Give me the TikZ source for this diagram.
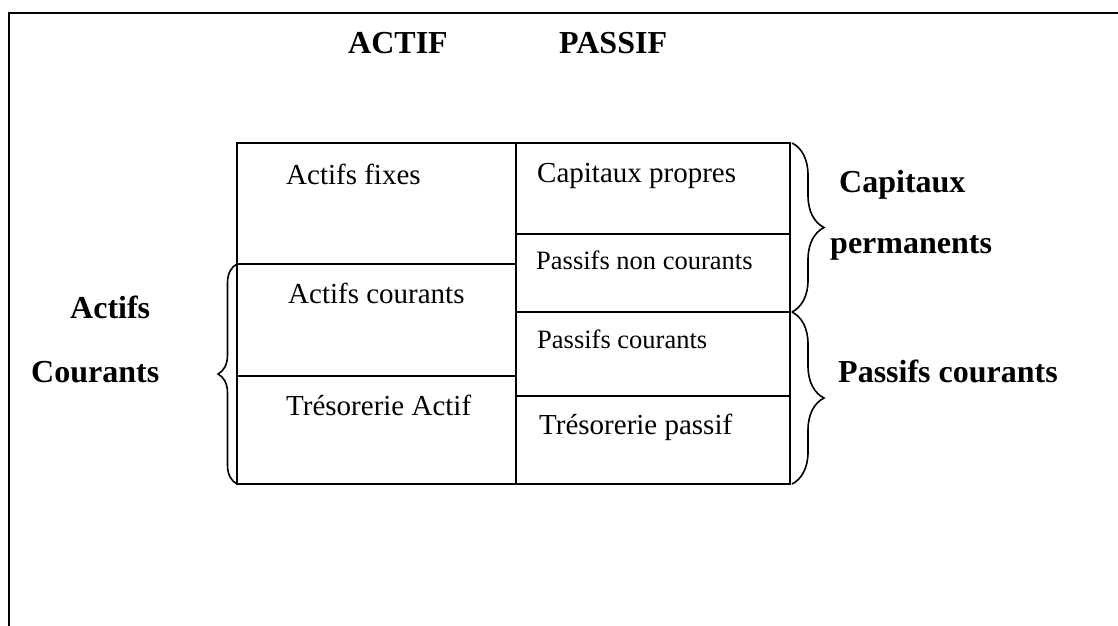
\documentclass[tikz,border=0pt]{standalone}
\usepackage{fontspec}
\setmainfont{Liberation Serif}
\usetikzlibrary{decorations.pathreplacing}
\begin{document}
\begin{tikzpicture}[x=1pt,y=-1pt,
  rule/.style={line width=1.6pt},
  frameline/.style={line width=2.2pt},
  cell/.style={anchor=base west,inner sep=0pt,font=\fontsize{29}{34}\selectfont},
  cellsmall/.style={anchor=base west,inner sep=0pt,font=\fontsize{26.5}{31}\selectfont},
  lab/.style={anchor=base west,inner sep=0pt,font=\fontsize{32}{38}\selectfont\bfseries},
  curly/.style={line width=1.6pt,decorate,decoration={brace,amplitude=#1}}]
\useasboundingbox (0,0) rectangle (1118,625);

% open outer frame (top and left sides)
\coordinate (ftr) at (1120,12.7);
\coordinate (ftl) at (9,12.7);
\coordinate (fbl) at (9,627);
\draw[frameline] (ftr) -- (ftl) -- (fbl);

% balance sheet grid
\coordinate (tl) at (237,143);
\coordinate (br) at (790,484);
\coordinate (mt) at (516,143);
\coordinate (mb) at (516,484);
\draw[rule] (tl) rectangle (br);
\draw[rule] (mt) -- (mb);
\coordinate (a1) at (237,264); \coordinate (a1e) at (516,264);
\coordinate (a2) at (237,376); \coordinate (a2e) at (516,376);
\coordinate (p1) at (516,234); \coordinate (p1e) at (790,234);
\coordinate (p2) at (516,312); \coordinate (p2e) at (790,312);
\coordinate (p3) at (516,396); \coordinate (p3e) at (790,396);
\draw[rule] (a1) -- (a1e);
\draw[rule] (a2) -- (a2e);
\draw[rule] (p1) -- (p1e);
\draw[rule] (p2) -- (p2e);
\draw[rule] (p3) -- (p3e);

% braces
\coordinate (rb1) at (792,143);
\coordinate (rb2) at (792,312);
\coordinate (rb3) at (792,484);
\draw[curly=32pt] (rb1) -- (rb2);
\draw[curly=32pt] (rb2) -- (rb3);
\coordinate (lb1) at (237,264);
\coordinate (lb2) at (237,484);
\draw[curly=19pt] (lb2) -- (lb1);

% headings
\node[lab] (actif) at (348,53) {ACTIF};
\node[lab] (passif) at (559,53) {PASSIF};

% cell texts
\node[cell] (af) at (286,184) {Actifs fixes};
\node[cell] (ac) at (288,303) {Actifs courants};
\node[cell] (ta) at (286,415) {Trésorerie Actif};
\node[cell] (cp) at (537,182) {Capitaux propres};
\node[cellsmall] (pnc) at (536,269) {Passifs non courants};
\node[cellsmall] (pc) at (537,348) {Passifs courants};
\node[cell] (tp) at (539,434) {Trésorerie passif};

% group labels
\node[lab] (capl) at (839,192) {Capitaux};
\node[lab] (perm) at (830,253) {permanents};
\node[lab] (pcl) at (838,382) {Passifs courants};
\node[lab] (actl) at (70,318) {Actifs};
\node[lab] (cour) at (31,382) {Courants};
\end{tikzpicture}
\end{document}
